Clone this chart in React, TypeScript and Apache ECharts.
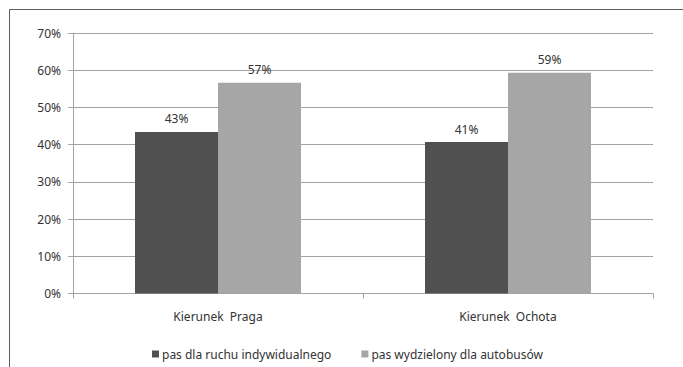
import React, { useEffect, useRef } from "react";
import * as echarts from "echarts";

const categories = ["Kierunek  Praga", "Kierunek  Ochota"];
const seriesNames = ["pas dla ruchu indywidualnego", "pas wydzielony dla autobusów"];
const individual = [0.434, 0.407];
const busLane = [0.566, 0.593];
const yTicks = { min: 0, max: 0.7, interval: 0.1 };

const FONT = "Noto Sans";
const TEXT = "#333333";
const GRID = "#a3a3a3";

export default function App() {
  const ref = useRef<HTMLDivElement>(null);
  useEffect(() => {
    if (!ref.current) return;
    const chart = echarts.init(ref.current, undefined, { renderer: "svg" });
    const pct = (v: number) => `${Math.round(v * 100)}%`;
    chart.setOption({
      animation: false,
      backgroundColor: "#ffffff",
      textStyle: { fontFamily: FONT, color: TEXT },
      grid: { left: 73, right: 30, top: 33, bottom: 73.5 },
      graphic: [
        {
          type: "rect",
          shape: { x: 9.5, y: 9.5, width: 700, height: 400 },
          style: { fill: "none", stroke: "#5e5e5e", lineWidth: 1 },
          silent: true,
        },
      ],
      legend: {
        bottom: 2,
        left: 147,
        itemWidth: 7,
        itemHeight: 7,
        itemGap: 30,
        icon: "rect",
        textStyle: { fontFamily: FONT, fontSize: 12, color: TEXT, padding: [0, 0, 0, -2] },
        data: seriesNames,
      },
      xAxis: {
        type: "category",
        data: categories,
        axisLine: { show: true, lineStyle: { color: GRID, width: 1 } },
        axisTick: { show: true, length: 5, lineStyle: { color: GRID } },
        axisLabel: { fontFamily: FONT, fontSize: 12, color: TEXT, margin: 17 },
      },
      yAxis: {
        type: "value",
        min: yTicks.min,
        max: yTicks.max,
        interval: yTicks.interval,
        axisLine: { show: true, lineStyle: { color: GRID, width: 1 } },
        axisTick: { show: true, length: 5, lineStyle: { color: GRID } },
        splitLine: { show: true, lineStyle: { color: GRID, width: 1 } },
        axisLabel: {
          fontFamily: FONT,
          fontSize: 12,
          color: TEXT,
          margin: 12,
          formatter: (v: number) => pct(v),
        },
      },
      series: [
        {
          name: seriesNames[0],
          type: "bar",
          data: individual,
          barWidth: 83,
          barGap: "0%",
          itemStyle: { color: "#505050" },
          label: {
            show: true,
            position: "top",
            distance: 7,
            fontFamily: FONT,
            fontSize: 12,
            color: TEXT,
            formatter: (p: any) => pct(p.value),
          },
        },
        {
          name: seriesNames[1],
          type: "bar",
          data: busLane,
          barWidth: 83,
          barGap: "0%",
          itemStyle: { color: "#a6a6a6" },
          label: {
            show: true,
            position: "top",
            distance: 7,
            fontFamily: FONT,
            fontSize: 12,
            color: TEXT,
            formatter: (p: any) => pct(p.value),
          },
        },
      ],
    });
    return () => chart.dispose();
  }, []);
  return (
    <div
      ref={ref}
      style={{ position: "fixed", left: 0, top: 0, width: 683, height: 367 }}
    />
  );
}
